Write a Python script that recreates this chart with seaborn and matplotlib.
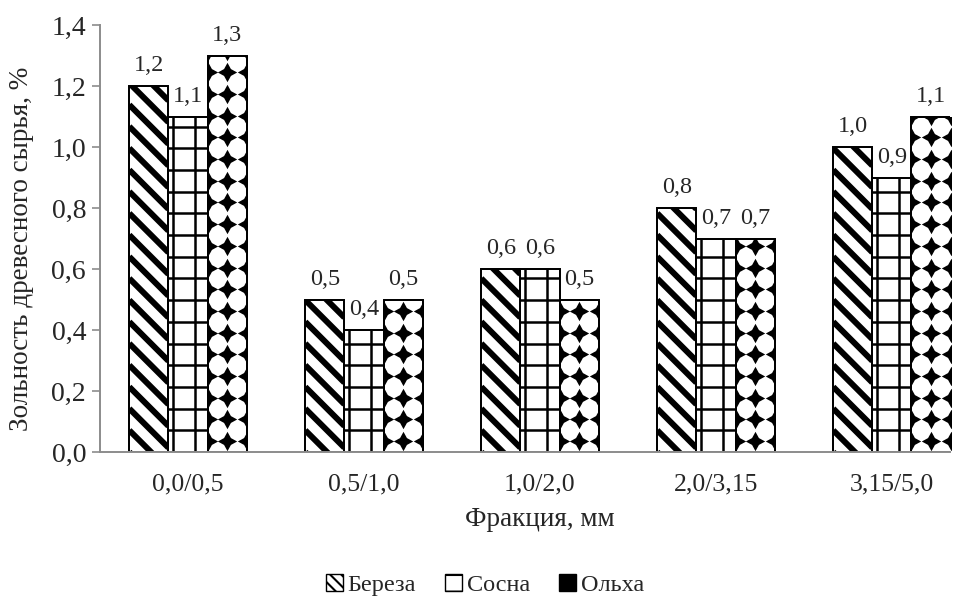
import matplotlib
matplotlib.use("Agg")
import matplotlib.pyplot as plt
from matplotlib.patches import Patch
from matplotlib.path import Path
from matplotlib.collections import LineCollection
import numpy as np
import pandas as pd
import seaborn as sns

# Ash content of wood raw material by fraction and species
fractions = ["0,0/0,5", "0,5/1,0", "1,0/2,0", "2,0/3,15", "3,15/5,0"]
species = ["Береза", "Сосна", "Ольха"]
birch = [1.2, 0.5, 0.6, 0.8, 1.0]
pine = [1.1, 0.4, 0.6, 0.7, 0.9]
alder = [1.3, 0.5, 0.5, 0.7, 1.1]
y_ticks = [0.0, 0.2, 0.4, 0.6, 0.8, 1.0, 1.2, 1.4]

df = pd.DataFrame({
    "Фракция": fractions * 3,
    "Вид": [s for s in species for _ in fractions],
    "Зольность": birch + pine + alder,
})

sns.set_style("white")
plt.rcParams["font.family"] = ["Liberation Serif", "DejaVu Serif"]
plt.rcParams["hatch.linewidth"] = 1.5

W, H = 971, 608
ax_left, ax_right, ax_top, ax_bottom = 100, 950, 25, 452
fig = plt.figure(figsize=(W / 100, H / 100), dpi=100)
ax = fig.add_axes([ax_left / W, 1 - ax_bottom / H,
                   (ax_right - ax_left) / W, (ax_bottom - ax_top) / H])

sns.barplot(data=df, x="Фракция", y="Зольность", hue="Вид",
            order=fractions, hue_order=species, width=0.667,
            palette=["white"] * 3, edgecolor="black", linewidth=1.3,
            saturation=1, legend=False, ax=ax)

xlim = (-0.5, 4.33)
ylim = (0, 1.4)
ax.set_xlim(*xlim)
ax.set_ylim(*ylim)

gray = "#8c8c8c"
ax.set_yticks(y_ticks)
ax.set_yticklabels([f"{v:.1f}".replace(".", ",") for v in y_ticks], fontsize=20)
ax.tick_params(axis="y", which="both", left=True, length=6, width=1.2,
               color=gray, pad=4)
ax.tick_params(axis="x", bottom=False, labelsize=18.5, pad=12)
for side in ("top", "right"):
    ax.spines[side].set_visible(False)
for side in ("left", "bottom"):
    ax.spines[side].set_color(gray)
    ax.spines[side].set_linewidth(1.4)

ax.set_xlabel("Фракция, мм", fontsize=19.5, labelpad=8)
ax.xaxis.label.set_x(0.518)
ax.set_ylabel("Зольность древесного сырья, %", fontsize=19.5)
ax.yaxis.set_label_coords(-0.078, 0.475)

# data units per pixel, and the pattern tile size in pixels
sx = (xlim[1] - xlim[0]) / (ax_right - ax_left)
sy = (ylim[1] - ylim[0]) / (ax_bottom - ax_top)
tile = 21.7

for cont in ax.containers:
    ax.bar_label(cont, labels=[f"{v:.1f}".replace(".", ",") for v in cont.datavalues],
                 padding=7, fontsize=17.5)


def outline(bar):
    ax.add_patch(plt.Rectangle((bar.get_x(), 0), bar.get_width(), bar.get_height(),
                               fill=False, edgecolor="black", linewidth=1.3,
                               zorder=bar.get_zorder() + 0.3))


# Birch: thick diagonal stripes falling to the right
for bar in ax.containers[0]:
    x0, w, top = bar.get_x(), bar.get_width(), bar.get_height()
    w_px, h_px = w / sx, top / sy
    segs = []
    for c in np.arange(-tile, h_px + w_px + tile, tile):
        segs.append([(x0, c * sy), (x0 + w, (c - w_px) * sy)])
    lc = LineCollection(segs, colors="black", linewidths=4.3,
                        zorder=bar.get_zorder() + 0.1)
    ax.add_collection(lc)
    lc.set_clip_path(bar)
    outline(bar)

# Pine: square grid
for bar in ax.containers[1]:
    x0, w, top = bar.get_x(), bar.get_width(), bar.get_height()
    segs = [[(x0, y), (x0 + w, y)] for y in np.arange(tile * sy, top, tile * sy)]
    segs += [[(x, 0), (x, top)] for x in np.arange(x0 + 5 * sx, x0 + w, tile * sx)]
    lc = LineCollection(segs, colors="black", linewidths=1.8,
                        zorder=bar.get_zorder() + 0.1)
    ax.add_collection(lc)
    lc.set_clip_path(bar)
    outline(bar)

# Alder: black four-point stars on a regular grid
star = Path.unit_regular_star(4, innerCircle=0.5)
for bar in ax.containers[2]:
    x0, w, top = bar.get_x(), bar.get_width(), bar.get_height()
    xs = np.array([x0, x0 + w / 2, x0 + w])
    ys = np.arange(tile * sy / 2, top + tile * sy, tile * sy)
    gx, gy = np.meshgrid(xs, ys)
    sc = ax.scatter(gx.ravel(), gy.ravel(), marker=star, s=195,
                    color="black", linewidths=0, zorder=bar.get_zorder() + 0.1)
    sc.set_clip_path(bar)
    outline(bar)

handles = [
    Patch(facecolor="white", edgecolor="black", hatch="\\\\\\"),
    Patch(facecolor="white", edgecolor="black", hatch="-"),
    Patch(facecolor="black", edgecolor="black"),
]
fig.legend(handles, species, loc="center", bbox_to_anchor=(485 / W, 1 - 585 / H),
           ncol=3, frameon=False, fontsize=17.5, handlelength=0.7, handleheight=0.7,
           handletextpad=0.2, columnspacing=1.2)

fig.savefig("out.png", dpi=100)
